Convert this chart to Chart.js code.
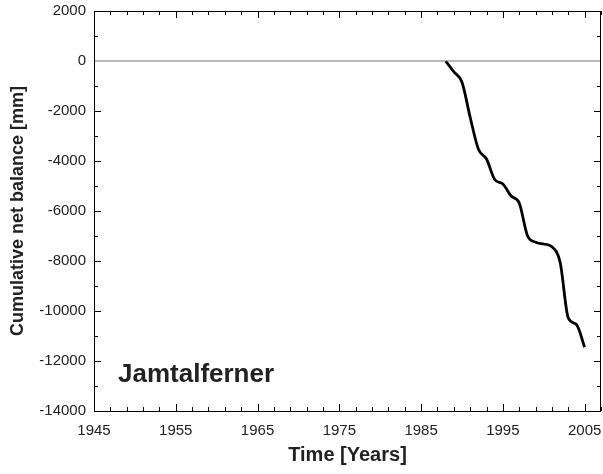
<!DOCTYPE html>
<html>
<head>
<meta charset="utf-8">
<script src="https://cdn.jsdelivr.net/npm/chart.js@4/dist/chart.umd.min.js"></script>
<style>
  html, body { margin: 0; padding: 0; background: #fff; }
  #wrap { width: 603px; height: 474px; position: relative; }
</style>
</head>
<body>
<div id="wrap"><canvas id="chart"></canvas></div>
<script>
// Données
const years = [1988, 1989, 1990, 1991, 1992, 1993, 1994, 1995, 1996, 1997, 1998, 1999, 2000, 2001, 2002, 2003, 2004, 2005];
const balance = [0, -430, -850, -2250, -3520, -3920, -4740, -4920, -5400, -5680, -6980, -7250, -7320, -7430, -8050, -10280, -10540, -11450];
const xTickLabels = [1945, 1955, 1965, 1975, 1985, 1995, 2005];
const yTickLabels = [2000, 0, -2000, -4000, -6000, -8000, -10000, -12000, -14000];
const zeroLineX = [1945, 2007];
const zeroLineY = [0, 0];

const FONT = '"Liberation Sans", Arial, sans-serif';

// Ticks vers l'intérieur + cadre
const frameTicks = {
  id: 'frameTicks',
  afterDraw(chart) {
    const { ctx, chartArea: a, scales } = chart;
    const x = scales.x, y = scales.y;
    ctx.save();
    ctx.strokeStyle = '#000';
    ctx.lineWidth = 1;
    ctx.strokeRect(a.left + 0.5, a.top + 0.5, a.right - a.left - 1, a.bottom - a.top);
    ctx.beginPath();
    for (let v = 1945; v <= 2007; v += 2) {
      const px = Math.round(x.getPixelForValue(v)) + 0.5;
      const len = (v - 1945) % 10 === 0 ? 7 : 4;
      ctx.moveTo(px, a.bottom); ctx.lineTo(px, a.bottom - len);
      ctx.moveTo(px, a.top); ctx.lineTo(px, a.top + len);
    }
    for (let v = -14000; v <= 2000; v += 1000) {
      if (v === 0) continue;
      const py = Math.round(y.getPixelForValue(v)) + 0.5;
      const len = v % 2000 === 0 ? 7 : 4;
      ctx.moveTo(a.left, py); ctx.lineTo(a.left + len, py);
      ctx.moveTo(a.right, py); ctx.lineTo(a.right - len, py);
    }
    ctx.stroke();
    ctx.restore();

    // Nom du glacier
    ctx.save();
    ctx.font = 'bold 26px ' + FONT;
    ctx.fillStyle = '#222';
    ctx.textBaseline = 'alphabetic';
    ctx.fillText('Jamtalferner', 118, 382);
    ctx.restore();
  }
};

const ctx = document.getElementById('chart').getContext('2d');
new Chart(ctx, {
  type: 'line',
  data: {
    datasets: [
      {
        data: zeroLineX.map((v, i) => ({ x: v, y: zeroLineY[i] })),
        borderColor: '#707070',
        borderWidth: 1,
        pointRadius: 0,
        tension: 0
      },
      {
        data: years.map((v, i) => ({ x: v, y: balance[i] })),
        borderColor: '#000',
        borderWidth: 2.8,
        pointRadius: 0,
        cubicInterpolationMode: 'monotone'
      }
    ]
  },
  plugins: [frameTicks],
  options: {
    responsive: true,
    maintainAspectRatio: false,
    animation: false,
    layout: { padding: { top: 11, right: 2, left: 0, bottom: 0 } },
    plugins: { legend: { display: false }, tooltip: { enabled: false } },
    scales: {
      x: {
        type: 'linear',
        min: 1945,
        max: 2007,
        grid: { display: false, drawTicks: false },
        border: { display: false },
        afterBuildTicks: s => { s.ticks = xTickLabels.map(v => ({ value: v })); },
        afterFit: s => { s.height = 63; s.paddingLeft = 0; s.paddingRight = 0; },
        ticks: {
          color: '#222',
          padding: 11,
          maxRotation: 0,
          autoSkip: false,
          font: { family: FONT, size: 15 },
          callback: v => String(v)
        },
        title: {
          display: true,
          text: 'Time [Years]',
          color: '#222',
          padding: { top: 0, bottom: 7 },
          font: { family: FONT, size: 20, weight: 'bold' }
        }
      },
      y: {
        min: -14000,
        max: 2000,
        grid: { display: false, drawTicks: false },
        border: { display: false },
        afterBuildTicks: s => { s.ticks = yTickLabels.map(v => ({ value: v })); },
        afterFit: s => { s.width = 94; s.paddingTop = 0; s.paddingBottom = 0; },
        ticks: {
          color: '#222',
          padding: 8,
          autoSkip: false,
          font: { family: FONT, size: 15 },
          callback: v => String(v)
        },
        title: {
          display: true,
          text: 'Cumulative net balance [mm]',
          color: '#222',
          padding: { top: 7, bottom: 0 },
          font: { family: FONT, size: 18, weight: 'bold' }
        }
      }
    }
  }
});
</script>
</body>
</html>
